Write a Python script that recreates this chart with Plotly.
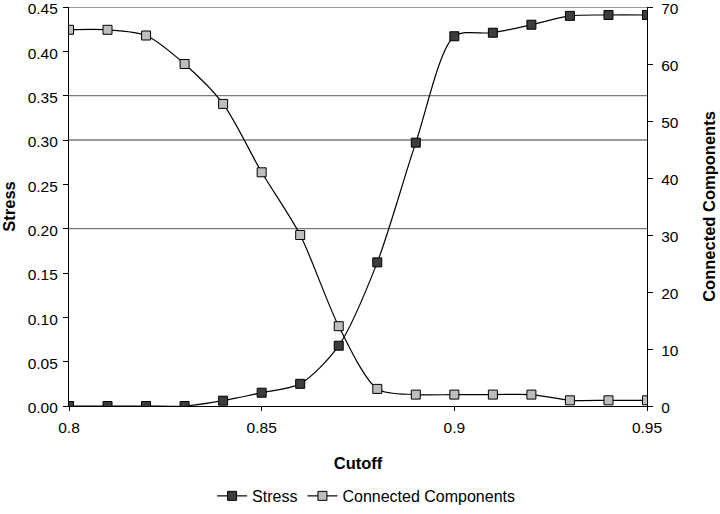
import plotly.graph_objects as go

cutoff = [0.80, 0.81, 0.82, 0.83, 0.84, 0.85, 0.86, 0.87, 0.88, 0.89, 0.90, 0.91, 0.92, 0.93, 0.94, 0.95]
stress = [0.000, 0.000, 0.000, 0.000, 0.006, 0.015, 0.025, 0.068, 0.162, 0.297, 0.417, 0.421, 0.430, 0.440, 0.441, 0.441]
components = [66, 66, 65, 60, 53, 41, 30, 14, 3, 2, 2, 2, 2, 1, 1, 1]

x_ticks = [0.8, 0.85, 0.9, 0.95]
x_ticklabels = ["0.8", "0.85", "0.9", "0.95"]
stress_ticks = [0.00, 0.05, 0.10, 0.15, 0.20, 0.25, 0.30, 0.35, 0.40, 0.45]
comp_ticks = [0, 10, 20, 30, 40, 50, 60, 70]
grid_levels = [0.20, 0.30, 0.35, 0.45]

FONT = "Arial, Liberation Sans, sans-serif"
TICK = 15.5
TITLE = 16.5

fig = go.Figure()
fig.add_trace(go.Scatter(
    x=cutoff, y=stress, name="Stress", mode="lines+markers",
    line=dict(color="black", width=1.2, shape="spline", smoothing=0.8),
    marker=dict(symbol="square", size=9, color="#3c3c3c", line=dict(color="black", width=1)),
    yaxis="y",
))
fig.add_trace(go.Scatter(
    x=cutoff, y=components, name="Connected Components", mode="lines+markers",
    line=dict(color="black", width=1.2, shape="spline", smoothing=0.8),
    marker=dict(symbol="square", size=9, color="#bdbdbd", line=dict(color="black", width=1)),
    yaxis="y2",
))

for g in grid_levels:
    fig.add_shape(type="line", xref="paper", yref="y", x0=0, x1=1, y0=g, y1=g,
                  line=dict(color="#7a7a7a", width=1.3), layer="below")

fig.update_layout(
    width=720, height=514,
    margin=dict(l=69, r=73, t=7, b=108, autoexpand=False),
    paper_bgcolor="white", plot_bgcolor="white",
    font=dict(family=FONT, size=TICK, color="black"),
    showlegend=True,
    legend=dict(orientation="h", x=0.514, xanchor="center", y=-0.2255, yanchor="middle",
                font=dict(size=16), itemwidth=30, tracegroupgap=0),
    xaxis=dict(
        range=[0.8, 0.95], tickvals=x_ticks, ticktext=x_ticklabels,
        ticks="outside", ticklen=4, tickcolor="black", ticklabelstandoff=3,
        showline=True, linecolor="black", linewidth=1, showgrid=False, zeroline=False,
        automargin=False, ticklabeloverflow="allow",
        title=dict(text="<b>Cutoff</b>", standoff=22, font=dict(size=TITLE)),
    ),
    yaxis=dict(
        range=[0, 0.45], tickvals=stress_ticks, tickformat=".2f",
        ticks="outside", ticklen=5, tickcolor="black", ticklabelstandoff=2, ticklabelshift=2,
        showline=True, linecolor="black", linewidth=1.2, showgrid=False, zeroline=False,
        automargin=False, ticklabeloverflow="allow",
        title=dict(text="<b>Stress</b>", standoff=12, font=dict(size=TITLE)),
    ),
    yaxis2=dict(
        range=[0, 70], tickvals=comp_ticks, overlaying="y", side="right",
        ticks="outside", ticklen=5, tickcolor="black", ticklabelstandoff=5, ticklabelshift=2,
        showline=True, linecolor="black", linewidth=1.2, showgrid=False, zeroline=False,
        automargin=False, ticklabeloverflow="allow",
        title=dict(text="<b>Connected Components</b>", standoff=25, font=dict(size=TITLE)),
    ),
)

fig.write_html("out.html", config={"displayModeBar": False},
               post_script="document.body.style.margin='0';")
